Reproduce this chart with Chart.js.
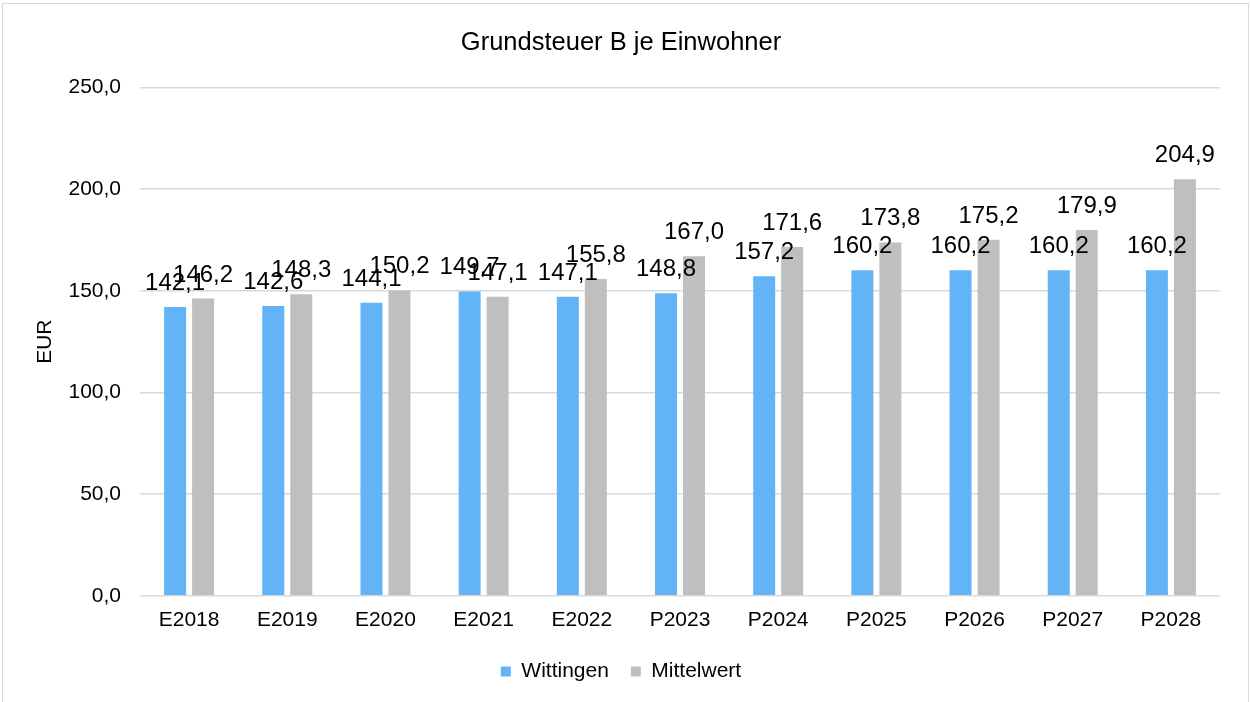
<!DOCTYPE html>
<html>
<head>
<meta charset="utf-8">
<script src="https://cdn.jsdelivr.net/npm/chart.js@4"></script>
<style>
  html, body { margin: 0; padding: 0; background: #fff; }
  #wrap { position: relative; width: 1250px; height: 702px; overflow: hidden; }
  #frame { position: absolute; left: 2px; top: 3px; width: 1245px; height: 720px; border: 1px solid #d9d9d9; }
  canvas { position: absolute; left: 0; top: 0; }
</style>
</head>
<body>
<div id="wrap">
  <div id="frame"></div>
  <canvas id="chart" width="1250" height="702"></canvas>
</div>
<script>
const categories = ['E2018', 'E2019', 'E2020', 'E2021', 'E2022', 'P2023', 'P2024', 'P2025', 'P2026', 'P2027', 'P2028'];
const wittingen = [142.1, 142.6, 144.1, 149.7, 147.1, 148.8, 157.2, 160.2, 160.2, 160.2, 160.2];
const mittelwert = [146.2, 148.3, 150.2, 147.1, 155.8, 167.0, 171.6, 173.8, 175.2, 179.9, 204.9];

const fontFamily = '"Liberation Sans", Arial, sans-serif';
const fmt = v => v.toFixed(1).replace('.', ',');

// labels over the bars, like excel does it
const barLabels = {
  id: 'barLabels',
  afterDatasetsDraw(chart) {
    const ctx = chart.ctx;
    ctx.save();
    ctx.font = '24px ' + fontFamily;
    ctx.fillStyle = '#000';
    ctx.textAlign = 'center';
    ctx.textBaseline = 'alphabetic';
    chart.data.datasets.forEach((ds, i) => {
      chart.getDatasetMeta(i).data.forEach((bar, j) => {
        ctx.fillText(fmt(ds.data[j]), bar.x, bar.y - 17);
      });
    });
    ctx.restore();
  }
};

new Chart(document.getElementById('chart'), {
  type: 'bar',
  data: {
    labels: categories,
    datasets: [
      { label: 'Wittingen', data: wittingen, backgroundColor: '#63b4f6' },
      { label: 'Mittelwert', data: mittelwert, backgroundColor: '#bfbfbf' }
    ]
  },
  options: {
    responsive: false,
    animation: false,
    devicePixelRatio: 1,
    datasets: { bar: { categoryPercentage: 0.57, barPercentage: 0.786 } },
    layout: { padding: { left: 22, right: 30, top: 0, bottom: 10 } },
    scales: {
      x: {
        grid: { display: false },
        border: { display: false },
        afterFit(scale) { scale.height = scale.height + 2; },
        ticks: { color: '#000', font: { family: fontFamily, size: 21 }, padding: 4 }
      },
      y: {
        min: 0,
        max: 250,
        afterFit(scale) { scale.width = 118; },
        grid: { color: '#d9d9d9', lineWidth: 1.5, drawTicks: false },
        border: { display: false },
        ticks: {
          stepSize: 50,
          color: '#000',
          padding: 19,
          font: { family: fontFamily, size: 21 },
          callback: v => fmt(v)
        },
        title: {
          display: true,
          text: 'EUR',
          color: '#000',
          font: { family: fontFamily, size: 21 },
          padding: { top: 11, bottom: 0 }
        }
      }
    },
    plugins: {
      title: {
        display: true,
        text: 'Grundsteuer B je Einwohner',
        color: '#000',
        font: { family: fontFamily, size: 25.5, weight: 'normal' },
        padding: { top: 28, bottom: 29 }
      },
      legend: {
        position: 'bottom',
        labels: {
          color: '#000',
          boxWidth: 10,
          boxHeight: 10,
          padding: 22,
          font: { family: fontFamily, size: 21 }
        }
      },
      tooltip: { enabled: false }
    }
  },
  plugins: [barLabels]
});
</script>
</body>
</html>
